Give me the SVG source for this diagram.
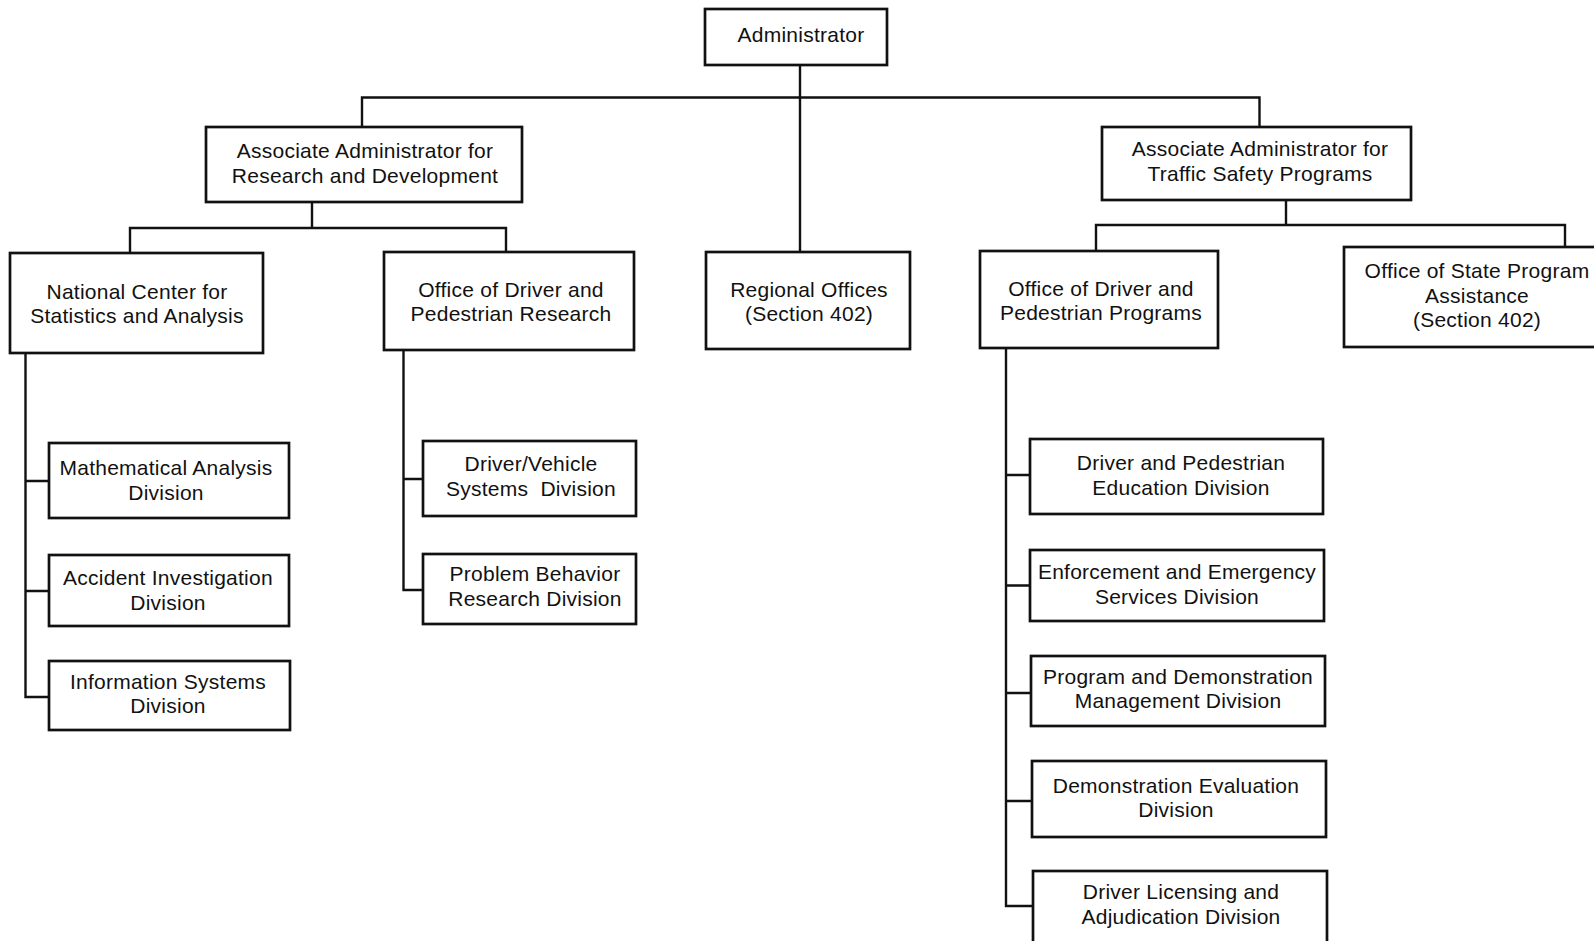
<svg xmlns="http://www.w3.org/2000/svg" width="1594" height="941" viewBox="0 0 1594 941">
<style>
.box{fill:#fff;stroke:#111;stroke-width:2.7}
.ln{fill:none;stroke:#111;stroke-width:2.4}
text{font-family:"Liberation Sans",Arial,sans-serif;font-size:21px;fill:#111;text-anchor:middle;letter-spacing:0.25px}
</style>
<rect width="1594" height="941" fill="#fff"/>
<g id="connectors">
<path class="ln" d="M800,65 V252 M362,127 V97.5 H1259.5 V127"/>
<path class="ln" d="M312,202 V228 M130,253 V228 H506 V252"/>
<path class="ln" d="M1286,200 V225 M1096,251 V225 H1565 V247"/>
<path class="ln" d="M25.5,353 V697 H49 M25.5,481 H49 M25.5,591 H49"/>
<path class="ln" d="M403.5,350 V590 H423 M403.5,479 H423"/>
<path class="ln" d="M1006,348 V906 H1033 M1006,475 H1030 M1006,585.5 H1030 M1006,693 H1031 M1006,801 H1032"/>
</g>
<g id="administrator"><rect class="box" x="705" y="9" width="182" height="56"/><text x="801" y="42">Administrator</text></g>
<g id="assoc-rd"><rect class="box" x="206" y="127" width="316" height="75"/><text x="365" y="158">Associate Administrator for</text><text x="365" y="183">Research and Development</text></g>
<g id="assoc-tsp"><rect class="box" x="1102" y="127" width="309" height="73"/><text x="1260" y="156">Associate Administrator for</text><text x="1260" y="181">Traffic Safety Programs</text></g>
<g id="ncsa"><rect class="box" x="10" y="253" width="253" height="100"/><text x="137" y="299">National Center for</text><text x="137" y="323">Statistics and Analysis</text></g>
<g id="odpr"><rect class="box" x="384" y="252" width="250" height="98"/><text x="511" y="297">Office of Driver and</text><text x="511" y="321">Pedestrian Research</text></g>
<g id="regional"><rect class="box" x="706" y="252" width="204" height="97"/><text x="809" y="297">Regional Offices</text><text x="809" y="321">(Section 402)</text></g>
<g id="odpp"><rect class="box" x="980" y="251" width="238" height="97"/><text x="1101" y="296">Office of Driver and</text><text x="1101" y="320">Pedestrian Programs</text></g>
<g id="ospa"><rect class="box" x="1344" y="247" width="260" height="100"/><text x="1477" y="278">Office of State Program</text><text x="1477" y="303">Assistance</text><text x="1477" y="327">(Section 402)</text></g>
<g id="math"><rect class="box" x="49" y="443" width="240" height="75"/><text x="166" y="475">Mathematical Analysis</text><text x="166" y="500">Division</text></g>
<g id="accident"><rect class="box" x="49" y="555" width="240" height="71"/><text x="168" y="585">Accident Investigation</text><text x="168" y="610">Division</text></g>
<g id="info"><rect class="box" x="49" y="661" width="241" height="69"/><text x="168" y="689">Information Systems</text><text x="168" y="713">Division</text></g>
<g id="driver-vehicle"><rect class="box" x="423" y="441" width="213" height="75"/><text x="531" y="471">Driver/Vehicle</text><text x="531" y="496" xml:space="preserve">Systems  Division</text></g>
<g id="problem-behavior"><rect class="box" x="423" y="554" width="213" height="70"/><text x="535" y="581">Problem Behavior</text><text x="535" y="606">Research Division</text></g>
<g id="dpe"><rect class="box" x="1030" y="439" width="293" height="75"/><text x="1181" y="470">Driver and Pedestrian</text><text x="1181" y="495">Education Division</text></g>
<g id="enforcement"><rect class="box" x="1030" y="550" width="294" height="71"/><text x="1177" y="579">Enforcement and Emergency</text><text x="1177" y="604">Services Division</text></g>
<g id="pdm"><rect class="box" x="1031" y="656" width="294" height="70"/><text x="1178" y="684">Program and Demonstration</text><text x="1178" y="708">Management Division</text></g>
<g id="demo-eval"><rect class="box" x="1032" y="761" width="294" height="76"/><text x="1176" y="793">Demonstration Evaluation</text><text x="1176" y="817">Division</text></g>
<g id="licensing"><rect class="box" x="1033" y="871" width="294" height="80"/><text x="1181" y="899">Driver Licensing and</text><text x="1181" y="924">Adjudication Division</text></g>
</svg>
